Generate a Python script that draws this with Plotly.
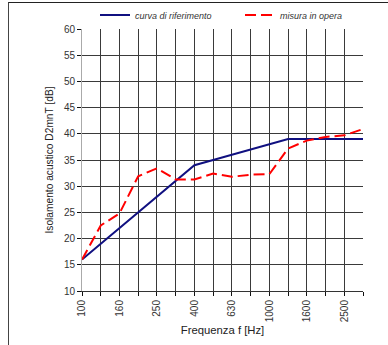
import plotly.graph_objects as go

freqs = ["100", "125", "160", "200", "250", "315", "400", "500", "630", "800",
         "1000", "1250", "1600", "2000", "2500", "3150"]
riferimento = [16, 19, 22, 25, 28, 31, 34, 35, 36, 37, 38, 39, 39, 39, 39, 39]
misura = [16, 22.5, 24.8, 31.9, 33.4, 31.3, 31.3, 32.4, 31.8, 32.2, 32.3, 37.2,
          38.7, 39.4, 39.7, 40.9]
tick_text = [f if i % 2 == 0 else "" for i, f in enumerate(freqs)]
y_ticks = list(range(10, 61, 5))

font = "Liberation Sans, Arial, sans-serif"
leg_font = dict(family=font, size=9, color="#333", style="italic")

fig = go.Figure()
fig.add_trace(go.Scatter(x=freqs, y=riferimento, mode="lines",
                         name="curva di riferimento", legend="legend",
                         line=dict(color="#101080", width=2)))
fig.add_trace(go.Scatter(x=freqs, y=misura, mode="lines",
                         name="misura in opera", legend="legend2",
                         line=dict(color="#ff0000", width=2, dash="11px,5px")))

fig.update_layout(
    width=388, height=345,
    margin=dict(l=82, r=25, t=29, b=54, autoexpand=False),
    paper_bgcolor="white", plot_bgcolor="white",
    font=dict(family=font, size=10, color="#333"),
    legend=dict(orientation="h", xref="container", yref="container",
                x=95 / 388, xanchor="left", y=1 - 15 / 345, yanchor="middle",
                font=leg_font, itemwidth=30, bgcolor="rgba(0,0,0,0)"),
    legend2=dict(orientation="h", xref="container", yref="container",
                 x=240 / 388, xanchor="left", y=1 - 15 / 345, yanchor="middle",
                 font=leg_font, itemwidth=30, bgcolor="rgba(0,0,0,0)"),
    showlegend=True,
    shapes=[
        dict(type="line", xref="paper", yref="paper",
             x0=-74/281, x1=306/281, y0=(345-2.5-54)/262, y1=(345-2.5-54)/262,
             line=dict(color="#222", width=1)),
        dict(type="line", xref="paper", yref="paper",
             x0=-73.5/281, x1=-73.5/281, y0=-54/262, y1=(345-2.5-54)/262,
             line=dict(color="#444", width=1)),
    ],
)
fig.update_xaxes(
    type="category", categoryorder="array", categoryarray=freqs,
    range=[0, 15], tickmode="array", tickvals=freqs, ticktext=tick_text,
    tickangle=-90, ticks="outside", ticklen=4, tickcolor="#111",
    showgrid=True, gridcolor="#3a3a3a", gridwidth=1, automargin=False,
    showline=True, linecolor="#333", mirror=False,
    title=dict(text="Frequenza f [Hz]", font=dict(size=11.3, color="#222"), standoff=4),
    tickfont=dict(size=10, color="#333"),
)
fig.update_yaxes(
    range=[10, 60], tickmode="array", tickvals=y_ticks,
    ticks="outside", ticklen=4, tickcolor="#111",
    showgrid=True, gridcolor="#3a3a3a", gridwidth=1, automargin=False,
    showline=True, linecolor="#aaa", zeroline=False,
    title=dict(text="Isolamento acustico D2mnT [dB]", font=dict(size=10.2, color="#222"), standoff=8),
    tickfont=dict(size=10, color="#333"),
)

fig.write_html("out.html", config={"displayModeBar": False},
               post_script="document.body.style.margin='0';")
